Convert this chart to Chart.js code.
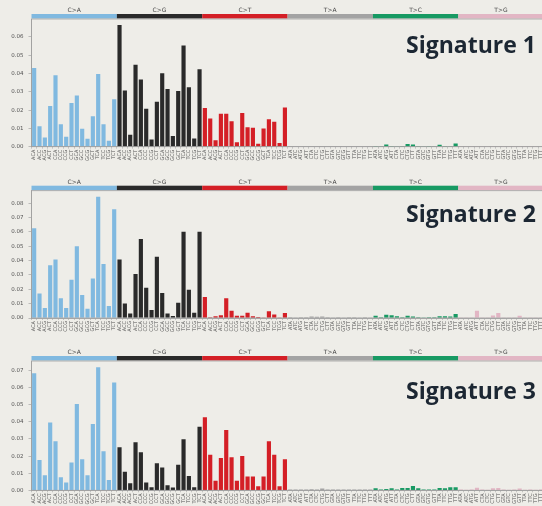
<!DOCTYPE html>
<html><head><meta charset="utf-8">
<script src="https://cdn.jsdelivr.net/npm/chart.js@4/dist/chart.umd.min.js"></script>
<style>
html,body{margin:0;padding:0;background:#eeede8;width:542px;height:506px;overflow:hidden;position:relative;}
.panel{position:absolute;left:0;width:548px;height:170px;}
.title{position:absolute;left:406px;font-family:"Open Sans";font-weight:700;font-size:23px;line-height:23px;color:#1c2733;white-space:nowrap;}
</style></head><body>
<div class="panel" style="top:0px"><canvas id="c1" width="548" height="170"></canvas></div>
<div class="panel" style="top:171px"><canvas id="c2" width="548" height="170"></canvas></div>
<div class="panel" style="top:342px"><canvas id="c3" width="548" height="170"></canvas></div>
<div class="title" style="top:32.6px">Signature 1</div>
<div class="title" style="top:201.5px">Signature 2</div>
<div class="title" style="top:379px">Signature 3</div>
<script>
const mutationTypes = ['C>A','C>G','C>T','T>A','T>C','T>G'];
const bases = ['A','C','G','T'];
const segColors = ['#80b9e0','#2a2a2a','#d41f26','#a3a3a3','#179a63','#e2b6c4'];
const titles = ['Signature 1','Signature 2','Signature 3'];
const yTickStep = 0.01;

const sig1CA = [0.043,0.0112,0.005,0.0222,0.039,0.0123,0.0054,0.0239,0.028,0.0098,0.0043,0.0166,0.0398,0.0123,0.0033,0.026];
const sig1CG = [0.0665,0.0307,0.0065,0.0448,0.0367,0.0208,0.004,0.0246,0.0401,0.0315,0.0058,0.0304,0.0553,0.0325,0.0045,0.0423];
const sig1CT = [0.0211,0.0154,0.0035,0.018,0.018,0.0139,0.0024,0.0184,0.0107,0.0104,0.0016,0.0100,0.015,0.0136,0.002,0.0215];
const sig1TA = [0.0004,0.0002,0.0003,0.0002,0.0003,0.0002,0.0002,0.0003,0.0002,0.0003,0.0002,0.0002,0.0003,0.0002,0.0002,0.0003];
const sig1TC = [0.0004,0.0003,0.0012,0.0004,0.0003,0.0004,0.0015,0.0012,0.0004,0.0003,0.0004,0.0003,0.001,0.0004,0.0003,0.0018];
const sig1TG = [0.0003,0.0002,0.0002,0.0003,0.0002,0.0002,0.0003,0.0002,0.0002,0.0003,0.0002,0.0002,0.0003,0.0002,0.0002,0.0003];

const sig2CA = [0.0624,0.017,0.0069,0.0367,0.0408,0.0138,0.0069,0.0266,0.050,0.016,0.0064,0.0275,0.0844,0.0376,0.0083,0.0757];
const sig2CG = [0.0408,0.0101,0.0032,0.0307,0.055,0.0211,0.0055,0.0427,0.0174,0.0032,0.0014,0.0106,0.0601,0.0197,0.0037,0.0601];
const sig2CT = [0.0147,0.0005,0.0012,0.002,0.0138,0.005,0.0016,0.0016,0.0037,0.0012,0.0007,0.0004,0.0047,0.0025,0.0004,0.0034];
const sig2TA = [0.0005,0.0004,0.0005,0.0006,0.001,0.0008,0.001,0.0005,0.0004,0.0005,0.0004,0.0005,0.0006,0.0004,0.0005,0.0004];
const sig2TC = [0.0016,0.0005,0.0022,0.002,0.0012,0.0005,0.0015,0.001,0.0005,0.0004,0.0005,0.0005,0.0012,0.0012,0.001,0.0028];
const sig2TG = [0.0004,0.0003,0.0004,0.005,0.0004,0.0003,0.0018,0.0035,0.0004,0.0003,0.0004,0.0015,0.0003,0.0004,0.0003,0.0004];

const sig3CA = [0.0684,0.0177,0.0088,0.0396,0.0287,0.0076,0.0045,0.0162,0.0505,0.0181,0.0088,0.0388,0.072,0.0228,0.006,0.063];
const sig3CG = [0.0251,0.0109,0.0041,0.0281,0.0222,0.0045,0.0018,0.0158,0.0134,0.0029,0.0016,0.015,0.0298,0.0084,0.0018,0.0372];
const sig3CT = [0.0427,0.0208,0.0056,0.0189,0.0353,0.0193,0.0056,0.0201,0.008,0.008,0.0023,0.008,0.0287,0.0208,0.0023,0.0181];
const sig3TA = [0.0005,0.0004,0.0005,0.0004,0.0006,0.0005,0.001,0.0005,0.0004,0.0005,0.0004,0.0005,0.0004,0.0005,0.0004,0.0005];
const sig3TC = [0.0012,0.0005,0.0008,0.0012,0.0005,0.0014,0.0014,0.0025,0.0012,0.0005,0.0004,0.0005,0.0014,0.0012,0.0018,0.0018];
const sig3TG = [0.0004,0.0003,0.0004,0.0015,0.0004,0.0003,0.0012,0.0014,0.0004,0.0003,0.0004,0.001,0.0003,0.0004,0.0003,0.0004];

const signatures = [
  [sig1CA,sig1CG,sig1CT,sig1TA,sig1TC,sig1TG],
  [sig2CA,sig2CG,sig2CT,sig2TA,sig2TC,sig2TG],
  [sig3CA,sig3CG,sig3CT,sig3TA,sig3TC,sig3TG]
];

// trinucleotide context labels
const contexts = [];
mutationTypes.forEach(m => {
  const ref = m[0];
  bases.forEach(b5 => bases.forEach(b3 => contexts.push(b5 + ref + b3)));
});
const barColors = [];
mutationTypes.forEach((m, s) => { for (let i = 0; i < 16; i++) barColors.push(segColors[s]); });

const segPlugin = {
  id: 'seg',
  afterDraw(chart) {
    const {ctx, chartArea, scales: {x}} = chart;
    const half = (x.getPixelForValue(1) - x.getPixelForValue(0)) / 2;
    ctx.save();
    mutationTypes.forEach((m, s) => {
      const x0 = x.getPixelForValue(s * 16) - half;
      const x1 = x.getPixelForValue(s * 16 + 15) + half;
      ctx.fillStyle = segColors[s];
      ctx.fillRect(x0, chartArea.top - 5, x1 - x0, 4.5);
      ctx.fillStyle = '#444';
      ctx.font = '6px "DejaVu Sans"';
      ctx.textAlign = 'center';
      ctx.textBaseline = 'alphabetic';
      ctx.fillText(m, (x0 + x1) / 2, chartArea.top - 7);
    });
    ctx.strokeStyle = '#a0a0a0';
    ctx.lineWidth = 0.8;
    ctx.strokeRect(chartArea.left, chartArea.top, chartArea.right - chartArea.left, chartArea.bottom - chartArea.top);
    ctx.restore();
  }
};

const paddings = [
  {top: 19, bottom: 7.3},
  {top: 19.7, bottom: 7},
  {top: 19, bottom: 5.7}
];

signatures.forEach((sig, k) => {
  const values = [].concat(...sig);
  const yMax = Math.max(...values) * 1.05;
  new Chart(document.getElementById('c' + (k + 1)), {
    type: 'bar',
    data: {
      labels: contexts,
      datasets: [{
        label: titles[k],
        data: values,
        backgroundColor: barColors,
        borderWidth: 0,
        barPercentage: 0.78,
        categoryPercentage: 1.0
      }]
    },
    options: {
      responsive: false,
      animation: false,
      layout: {padding: {left: 0, right: 2.5, top: paddings[k].top, bottom: paddings[k].bottom}},
      plugins: {legend: {display: false}, tooltip: {enabled: false}},
      scales: {
        x: {
          offset: true,
          grid: {display: true, drawOnChartArea: false, drawTicks: true, tickLength: 2, color: '#999', lineWidth: 0.5},
          border: {display: true, color: '#999', width: 0.8},
          ticks: {autoSkip: false, maxRotation: 90, minRotation: 90, padding: 1,
            font: {family: 'DejaVu Sans', size: 5}, color: '#555'},
          afterFit(scale) { scale.height = 16; }
        },
        y: {
          min: 0,
          max: yMax,
          grid: {display: true, drawOnChartArea: false, drawTicks: true, tickLength: 3, color: '#999', lineWidth: 0.6},
          border: {display: true, color: '#999', width: 0.8},
          ticks: {stepSize: yTickStep, includeBounds: false, padding: 5,
            font: {family: 'DejaVu Sans', size: 5.5}, color: '#555',
            callback: v => Number(v).toFixed(2)},
          afterFit(scale) { scale.width = 31.5; }
        }
      }
    },
    plugins: [segPlugin]
  });
});
</script>
</body></html>
